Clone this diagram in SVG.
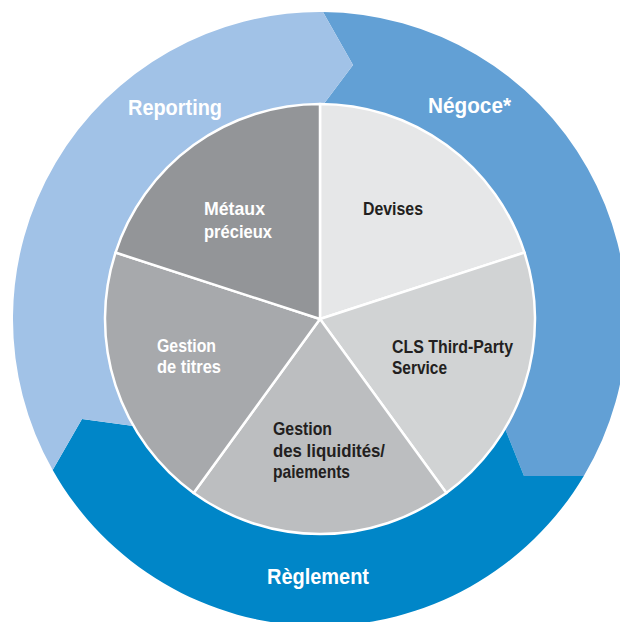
<svg xmlns="http://www.w3.org/2000/svg" width="620" height="622" viewBox="0 0 620 622">
<style>
.lbl{font-family:"Liberation Sans",Arial,sans-serif;font-weight:bold;}
.ring{font-size:22.5px;fill:#ffffff;}
.in{font-size:18.5px;}
.w{fill:#ffffff;}
.d{fill:#231f20;}
.slice{stroke:#ffffff;stroke-width:2.5;stroke-linejoin:round;}
</style>
<rect width="620" height="622" fill="#ffffff"/>
<g id="ring">
  <g id="negoce">
    <path d="M323,12 A307,307 0 0 1 583.8,476 L524,476 L503.6,425 A212,212 0 0 0 321.5,107 L353,65 Z" fill="#62a0d5"/>
    <text class="lbl ring" x="428" y="113" textLength="83" lengthAdjust="spacingAndGlyphs">Négoce*</text>
  </g>
  <g id="reglement">
    <path d="M583.8,476 A307,307 0 0 1 52.7,470 L82,419 L137.3,426.5 A212,212 0 0 0 503.6,425 L524,476 Z" fill="#0086c8"/>
    <text class="lbl ring" x="267" y="584" textLength="102" lengthAdjust="spacingAndGlyphs">Règlement</text>
  </g>
  <g id="reporting">
    <path d="M52.7,470 A307,307 0 0 1 323,12 L353,65 L321.5,107 A212,212 0 0 0 137.3,426.5 L82,419 Z" fill="#a1c2e7"/>
    <text class="lbl ring" x="128" y="115" textLength="94" lengthAdjust="spacingAndGlyphs">Reporting</text>
  </g>
</g>
<g id="pie">
  <g id="devises">
    <path class="slice" d="M320,319 L320,104 A215,215 0 0 1 524.48,252.56 Z" fill="#e6e7e8"/>
    <text class="lbl in d" x="363" y="215" textLength="60" lengthAdjust="spacingAndGlyphs">Devises</text>
  </g>
  <g id="cls">
    <path class="slice" d="M320,319 L524.48,252.56 A215,215 0 0 1 446.37,492.94 Z" fill="#d1d3d4"/>
    <text class="lbl in d" x="392" y="353" textLength="121" lengthAdjust="spacingAndGlyphs">CLS Third-Party</text>
    <text class="lbl in d" x="392" y="374" textLength="55" lengthAdjust="spacingAndGlyphs">Service</text>
  </g>
  <g id="liquidites">
    <path class="slice" d="M320,319 L446.37,492.94 A215,215 0 0 1 193.63,492.94 Z" fill="#bcbec0"/>
    <text class="lbl in d" x="273" y="435" textLength="59" lengthAdjust="spacingAndGlyphs">Gestion</text>
    <text class="lbl in d" x="273" y="457" textLength="112" lengthAdjust="spacingAndGlyphs">des liquidités/</text>
    <text class="lbl in d" x="273" y="478" textLength="77" lengthAdjust="spacingAndGlyphs">paiements</text>
  </g>
  <g id="titres">
    <path class="slice" d="M320,319 L193.63,492.94 A215,215 0 0 1 115.52,252.56 Z" fill="#a7a9ac"/>
    <text class="lbl in w" x="157" y="352" textLength="59" lengthAdjust="spacingAndGlyphs">Gestion</text>
    <text class="lbl in w" x="157" y="373" textLength="64" lengthAdjust="spacingAndGlyphs">de titres</text>
  </g>
  <g id="metaux">
    <path class="slice" d="M320,319 L115.52,252.56 A215,215 0 0 1 320,104 Z" fill="#939598"/>
    <text class="lbl in w" x="204" y="215" textLength="61" lengthAdjust="spacingAndGlyphs">Métaux</text>
    <text class="lbl in w" x="204" y="238" textLength="68" lengthAdjust="spacingAndGlyphs">précieux</text>
  </g>
</g>
</svg>
